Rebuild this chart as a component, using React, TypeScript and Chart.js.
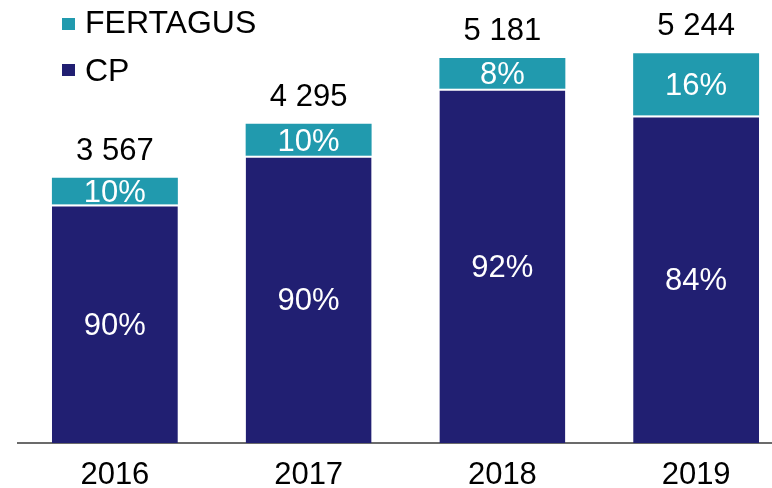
import React, { useEffect, useRef } from "react";
import { Chart, registerables } from "chart.js";

Chart.register(...registerables);

const categories = ["2016", "2017", "2018", "2019"];
const cpValues = [3210, 3866, 4767, 4405];
const fertagusValues = [357, 429, 414, 839];
const totalLabels = ["3 567", "4 295", "5 181", "5 244"];
const cpPctLabels = ["90%", "90%", "92%", "84%"];
const fertagusPctLabels = ["10%", "10%", "8%", "16%"];

const NAVY = "#211F72";
const TEAL = "#219AAE";
const FONT = '"Liberation Sans", Arial, sans-serif';

const labelPlugin = {
  id: "labelPlugin",
  afterDatasetsDraw(chart: any) {
    const ctx = chart.ctx;
    ctx.save();
    ctx.font = `31px ${FONT}`;
    ctx.textAlign = "center";
    ctx.textBaseline = "alphabetic";
    const off = 11;
    const cpMeta = chart.getDatasetMeta(0);
    const fMeta = chart.getDatasetMeta(1);
    cpMeta.data.forEach((bar: any, i: number) => {
      const cy = (bar.y + bar.base) / 2;
      ctx.fillStyle = "#ffffff";
      ctx.fillText(cpPctLabels[i], bar.x, cy + off);
    });
    fMeta.data.forEach((bar: any, i: number) => {
      const cy = (bar.y + bar.base) / 2;
      ctx.fillStyle = "#ffffff";
      ctx.fillText(fertagusPctLabels[i], bar.x, cy + off);
      ctx.fillStyle = "#000000";
      ctx.fillText(totalLabels[i], bar.x, bar.y - 29 + off);
    });
    // legend
    ctx.textAlign = "left";
    ctx.font = `32px ${FONT}`;
    const items = [
      { label: chart.data.datasets[1].label, color: TEAL, sq: 18, base: 33 },
      { label: chart.data.datasets[0].label, color: NAVY, sq: 64, base: 81 },
    ];
    items.forEach((it) => {
      ctx.fillStyle = it.color;
      ctx.fillRect(62, it.sq, 13, 12);
      ctx.fillStyle = "#000000";
      ctx.fillText(it.label, 85, it.base);
    });
    ctx.restore();
  },
};

export default function App() {
  const ref = useRef<HTMLCanvasElement>(null);
  useEffect(() => {
    if (!ref.current) return;
    const chart = new Chart(ref.current, {
      type: "bar",
      data: {
        labels: categories,
        datasets: [
          {
            label: "CP",
            data: cpValues,
            backgroundColor: NAVY,
            borderColor: "#ffffff",
            borderWidth: { top: 2, left: 0, right: 0, bottom: 0 },
            borderSkipped: false,
            barPercentage: 0.65,
            categoryPercentage: 1,
          },
          {
            label: "FERTAGUS",
            data: fertagusValues,
            backgroundColor: TEAL,
            borderWidth: 0,
            barPercentage: 0.65,
            categoryPercentage: 1,
          },
        ],
      },
      options: {
        responsive: false,
        animation: false,
        devicePixelRatio: 1,
        layout: { padding: { left: 18, right: 7, top: 0, bottom: 0 } },
        plugins: { legend: { display: false }, tooltip: { enabled: false } },
        scales: {
          x: {
            stacked: true,
            grid: { display: false, drawTicks: false },
            border: { display: true, color: "#6b6b6b", width: 2 },
            ticks: {
              color: "#000000",
              font: { family: FONT, size: 31 },
              padding: 14,
              maxRotation: 0,
            },
            afterFit(scale: any) {
              scale.height = 45;
            },
          },
          y: {
            stacked: true,
            display: false,
            min: 0,
            max: 5960,
          },
        },
      },
      plugins: [labelPlugin],
    });
    return () => chart.destroy();
  }, []);
  return (
    <div
      style={{
        position: "absolute",
        left: 0,
        top: 0,
        width: 772,
        height: 488,
        overflow: "hidden",
        background: "#ffffff",
      }}
    >
      <canvas ref={ref} width={800} height={488} style={{ width: 800, height: 488, display: "block" }} />
    </div>
  );
}
